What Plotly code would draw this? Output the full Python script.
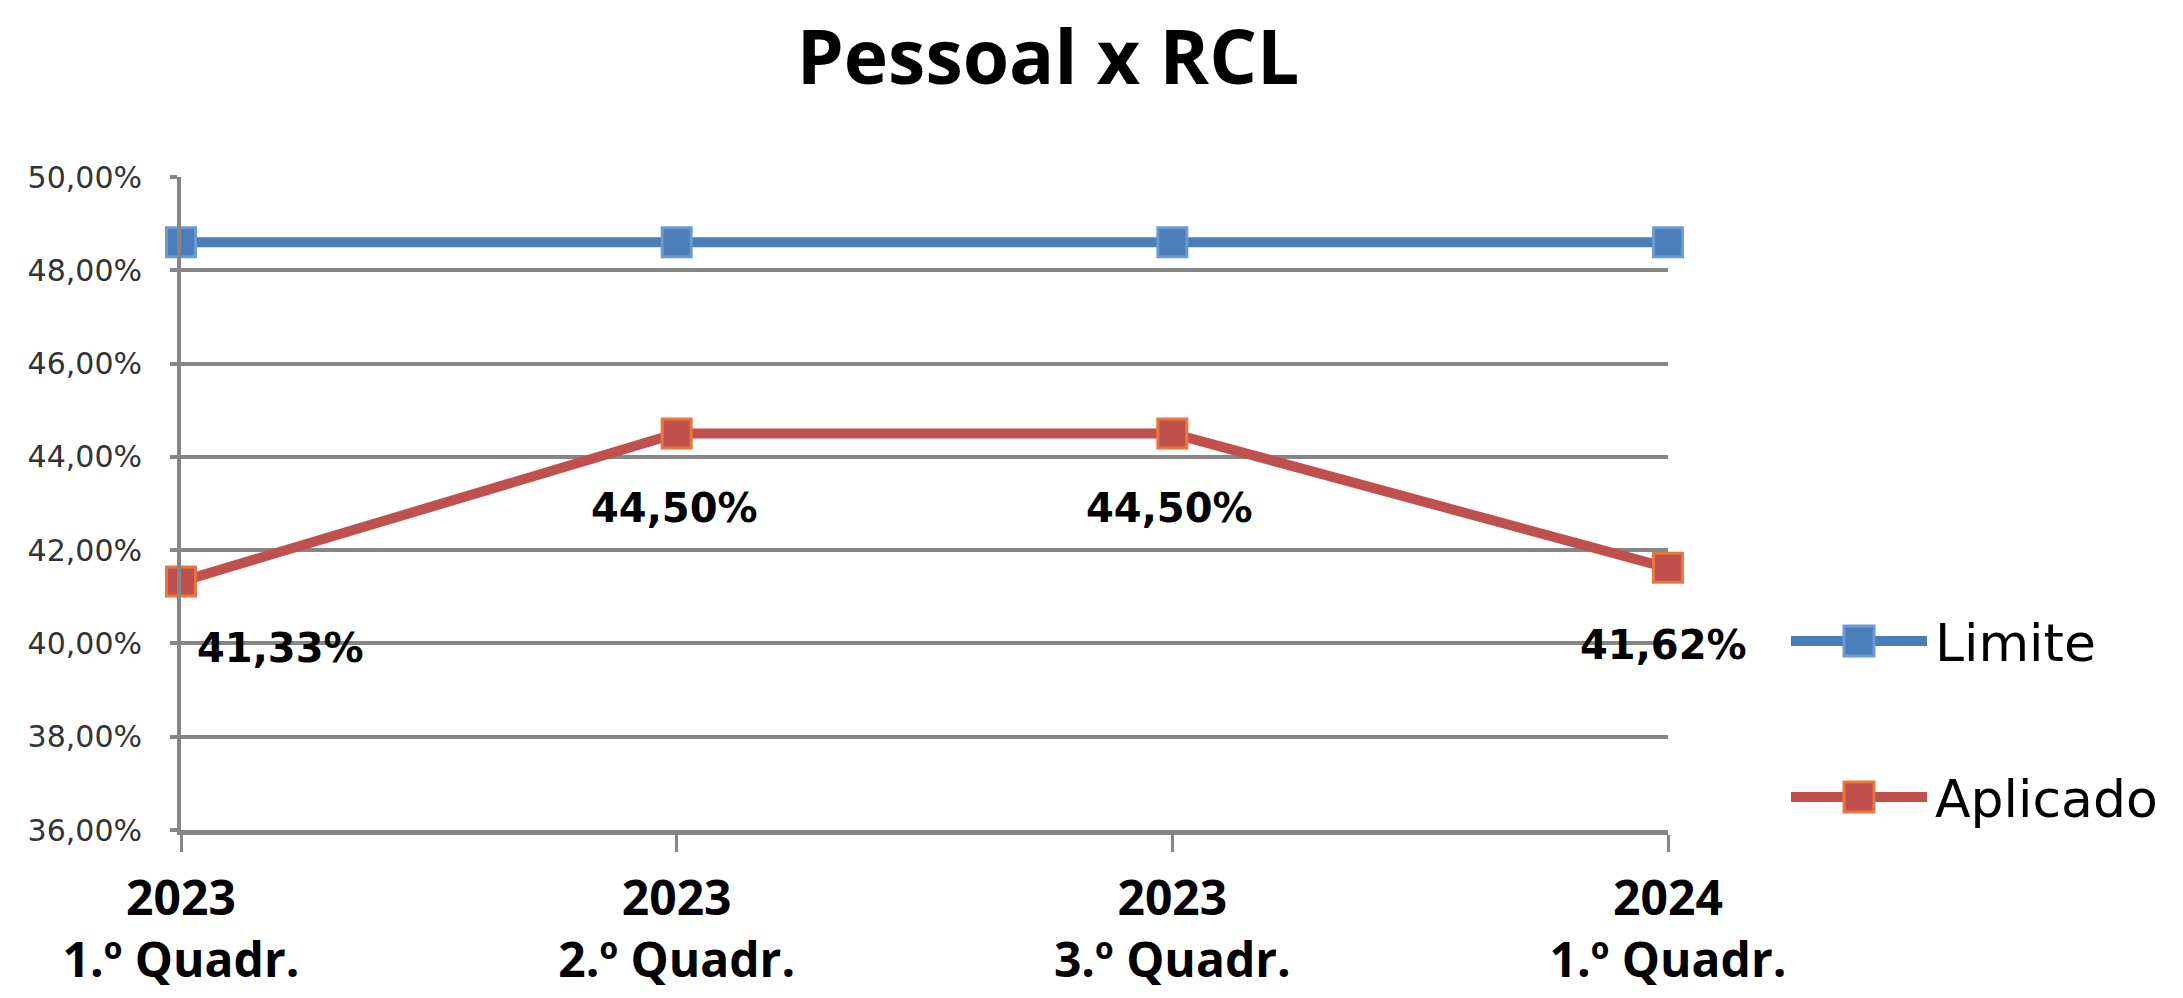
import plotly.graph_objects as go

# ---- data ----
categories = ["2023<br>1.º Quadr.", "2023<br>2.º Quadr.", "2023<br>3.º Quadr.", "2024<br>1.º Quadr."]
limite = [48.60, 48.60, 48.60, 48.60]
aplicado = [41.33, 44.50, 44.50, 41.62]
series_names = ["Limite", "Aplicado"]
y_ticks = [36, 38, 40, 42, 44, 46, 48, 50]

W, H = 2183, 998
L, R, T, B = 181, 1668, 177, 830  # plot area in px

BLUE = "#4A7EBB"
BLUE_EDGE = "#6E98D0"
RED = "#C0504D"
RED_EDGE = "#E8773F"
GRID = "#868686"


def fmt(v):
    return f"{v:.2f}".replace(".", ",") + "%"


fig = go.Figure()
fig.add_trace(go.Scatter(
    x=categories, y=limite, name=series_names[0], mode="lines+markers",
    line=dict(color=BLUE, width=10),
    marker=dict(symbol="square", size=29, color=BLUE, line=dict(color=BLUE_EDGE, width=3)),
    cliponaxis=False, showlegend=False))
fig.add_trace(go.Scatter(
    x=categories, y=aplicado, name=series_names[1], mode="lines+markers",
    line=dict(color=RED, width=10),
    marker=dict(symbol="square", size=29, color=RED, line=dict(color=RED_EDGE, width=3)),
    cliponaxis=False, showlegend=False))

# data labels
label_shifts = [(99, -67), (-2, -74), (-3, -74), (-5, -77)]
annotations = []
for i, (c, v) in enumerate(zip(categories, aplicado)):
    dx, dy = label_shifts[i]
    annotations.append(dict(
        x=c, y=v, xref="x", yref="y", text=fmt(v), showarrow=False,
        xshift=dx, yshift=dy, xanchor="center", yanchor="middle",
        font=dict(family="DejaVu Sans", size=40, color="black", weight="bold")))

# custom legend
pw, ph = R - L, B - T


def px_x(x):
    return (x - L) / pw


def px_y(y):
    return (B - y) / ph


shapes = []
legend_rows = [(series_names[0], 641, BLUE, BLUE_EDGE), (series_names[1], 797, RED, RED_EDGE)]
for name, yc, col, edge in legend_rows:
    shapes.append(dict(type="line", xref="paper", yref="paper",
                       x0=px_x(1791), x1=px_x(1927), y0=px_y(yc), y1=px_y(yc),
                       line=dict(color=col, width=10)))
    shapes.append(dict(type="rect", xref="paper", yref="paper",
                       x0=px_x(1859 - 15), x1=px_x(1859 + 15), y0=px_y(yc - 15), y1=px_y(yc + 15),
                       fillcolor=col, line=dict(color=edge, width=3)))
    annotations.append(dict(x=px_x(1933), y=px_y(yc + 2), xref="paper", yref="paper",
                            text=name, showarrow=False, xanchor="left", yanchor="middle",
                            font=dict(family="DejaVu Sans", size=52, color="black")))

fig.update_layout(
    width=W, height=H,
    margin=dict(l=L, r=W - R, t=T, b=H - B, pad=0, autoexpand=False),
    paper_bgcolor="white", plot_bgcolor="white",
    title=dict(text="Pessoal x RCL", x=1048 / W, xanchor="center", y=1 - 58 / H, yanchor="middle",
               font=dict(family="Open Sans", size=75, color="black", weight="bold")),
    xaxis=dict(
        type="category", range=[0, len(categories) - 1],
        showgrid=False, zeroline=False, automargin=False,
        showline=True, linecolor=GRID, linewidth=5,
        ticks="outside", ticklen=17, tickwidth=3, tickcolor=GRID,
        tickfont=dict(family="Open Sans", size=48, color="black", weight="bold"),
        ticklabelstandoff=5,
    ),
    yaxis=dict(
        range=[y_ticks[0], y_ticks[-1]], tickmode="array", tickvals=y_ticks,
        ticktext=[fmt(t) for t in y_ticks],
        showgrid=True, gridcolor=GRID, gridwidth=4,
        zeroline=False, automargin=False,
        showline=True, linecolor=GRID, linewidth=4,
        ticks="outside", ticklen=7, tickwidth=4, tickcolor=GRID,
        tickfont=dict(family="DejaVu Sans", size=30, color="#333333"),
        ticklabelstandoff=22,
    ),
    shapes=shapes,
    annotations=annotations,
    showlegend=False,
)

fig.write_html("out.html", config={"displayModeBar": False},
               post_script="document.body.style.margin='0';")
